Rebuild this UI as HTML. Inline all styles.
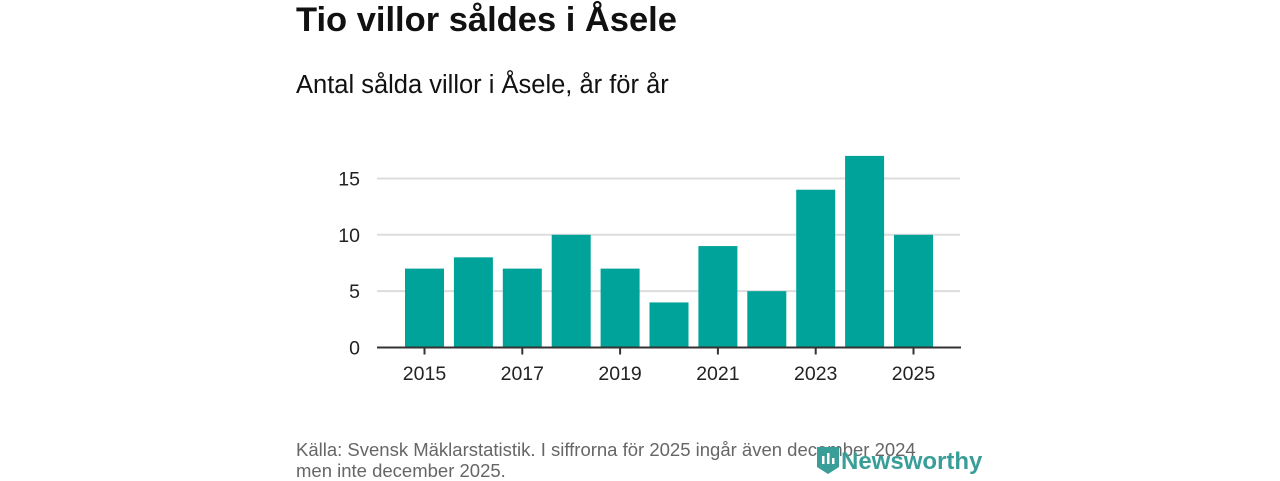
<!DOCTYPE html>
<html><head><meta charset="utf-8"><style>
body{margin:0;width:1280px;height:480px;background:#fff;font-family:"Liberation Sans",sans-serif;position:relative;overflow:hidden}
.t{position:absolute;left:296px;top:1px;font-size:34.5px;font-weight:bold;color:#111;margin:0}
.s{position:absolute;left:296px;top:71px;font-size:25.5px;color:#111}
.f{position:absolute;left:296px;top:439px;font-size:18.5px;color:#666;line-height:21px}
.logo{position:absolute;left:815px;top:445px;font-size:24px;font-weight:bold;color:#3a9e98}
</style></head><body>
<h1 class="t">Tio villor såldes i Åsele</h1>
<div class="s">Antal sålda villor i Åsele, år för år</div>
<svg id="c" width="1280" height="480" style="position:absolute;left:0;top:0"></svg>
<div class="f">Källa: Svensk Mäklarstatistik. I siffrorna för 2025 ingår även december 2024<br>men inte december 2025.</div>
<div class="logo"><svg width="26" height="30" style="vertical-align:-6px"><path d="M2 2h22v20l-11 7-11-7z" fill="#3a9e98"/><rect x="7" y="11" width="2.5" height="8" fill="#fff"/><rect x="12" y="8" width="2.5" height="11" fill="#fff"/><rect x="17" y="13" width="2.5" height="6" fill="#fff"/></svg>Newsworthy</div>
<script>
const years=[2015,2016,2017,2018,2019,2020,2021,2022,2023,2024,2025];
const values=[7,8,7,10,7,4,9,5,14,17,10];
const yTicks=[0,5,10,15];
const xTickYears=[2015,2017,2019,2021,2023,2025];
const NS="http://www.w3.org/2000/svg",svg=document.getElementById('c');
const y0=347.5,unit=11.27,x0=424.5,step=48.9,bw=39;
const ys=v=>y0-v*unit, xs=yr=>x0+(yr-2015)*step;
function mk(t,a,txt){const e=document.createElementNS(NS,t);for(const k in a)e.setAttribute(k,a[k]);if(txt!=null)e.textContent=txt;svg.appendChild(e);return e;}
yTicks.forEach(v=>{
 if(v>0){const g=mk('line',{x1:377,x2:960,y1:ys(v),y2:ys(v),stroke:'#ddd','stroke-width':2});
 
 }
 const t=mk('text',{x:360,y:ys(v)+7,'text-anchor':'end','font-size':19.5,fill:'#222','font-family':'Liberation Sans, sans-serif'},v);
 
 
});
years.forEach((yr,i)=>{
 const b=mk('rect',{x:xs(yr)-bw/2,y:ys(values[i]),width:bw,height:values[i]*unit,fill:'#00a39a'});
 
 
});
const ax=mk('line',{x1:377,x2:961,y1:y0,y2:y0,stroke:'#333','stroke-width':2});


xTickYears.forEach(yr=>{
 const tk=mk('line',{x1:xs(yr),x2:xs(yr),y1:y0,y2:y0+7,stroke:'#333','stroke-width':2});
 
 
 const t=mk('text',{x:xs(yr),y:380,'text-anchor':'middle','font-size':19.5,fill:'#222','font-family':'Liberation Sans, sans-serif'},yr);
 
 
});
</script>
</body></html>
